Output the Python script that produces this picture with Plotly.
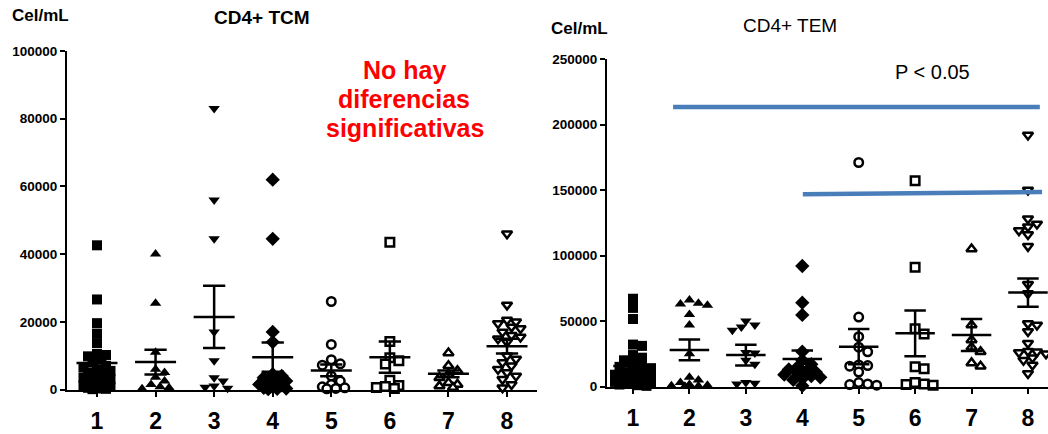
import plotly.graph_objects as go

# ---------------- data ----------------
categories = ["1", "2", "3", "4", "5", "6", "7", "8"]

tcm_g1 = [42600, 26600, 19600, 16500, 13700, 10500, 10200, 9800, 9000, 8000, 7000, 6500, 6000, 5500, 5000,
          4500, 4000, 3500, 3000, 2500, 2000, 1800, 1500, 1200, 1000, 800, 500, 300, 200, 100]
tcm_g2 = [40000, 25500, 11000, 6000, 5000, 3600, 2500, 1500, 800, 500, 200]
tcm_g3 = [83000, 56000, 44500, 17000, 8500, 3500, 2500, 1000, 700, 400]
tcm_g4 = [62000, 44500, 17000, 14000, 4500, 4000, 3500, 3000, 2500, 2000, 1500, 1200, 800, 500, 300, 200, 100]
tcm_g5 = [26000, 13300, 8800, 7600, 7200, 4000, 2500, 1500, 800, 500, 300, 200]
tcm_g6 = [43500, 14200, 9400, 8500, 7500, 2700, 1200, 900, 600, 300]
tcm_g7 = [10800, 7000, 5500, 4500, 3500, 2000, 1500, 1000, 600]
tcm_g8 = [46000, 25000, 20500, 20000, 19500, 18500, 18000, 17000, 16000, 15500, 15000, 14000, 10000, 9000,
          8000, 7000, 6000, 5000, 4000, 3000, 1500, 500]
tcm_mean = [7800, 8100, 21450, 9560, 5620, 9560, 4640, 12800]
tcm_sem = [1800, 3650, 9200, 4300, 1730, 4640, 1000, 2200]

tem_g1 = [67000, 60000, 51500, 32000, 31000, 24000, 22000, 20000, 18000, 16000, 15000, 14000, 12000, 11000,
          10000, 9000, 8000, 7000, 6000, 5500, 5000, 4500, 4000, 3500, 3000, 2500, 2000, 1500, 1000, 500]
tem_g2 = [66000, 63500, 63000, 62000, 55000, 47000, 25000, 7000, 5000, 3000, 1500, 1000, 500, 300, 200]
tem_g3 = [50000, 47000, 45500, 43000, 26000, 25500, 20000, 17000, 3000, 2500, 2000]
tem_g4 = [92000, 64000, 54600, 26600, 20000, 17000, 15000, 13000, 12000, 11000, 10000, 9000, 8000, 7000,
          6000, 5000, 500]
tem_g5 = [171000, 53000, 38000, 30000, 26500, 16500, 16000, 15500, 11000, 3000, 2000, 1500, 1000]
tem_g6 = [157000, 91000, 44000, 40000, 15000, 13500, 3000, 2000, 1500, 1000]
tem_g7 = [105000, 47000, 35500, 30000, 26500, 18000, 15500]
tem_g8 = [192000, 150000, 128000, 124000, 122000, 119000, 116000, 107000, 78000, 71000, 48000, 47000,
          42000, 33000, 27000, 26500, 26000, 25000, 22000, 20000, 16500, 10000]
tem_mean = [15600, 27900, 24000, 21000, 30400, 40600, 39300, 71700]
tem_sem = [3000, 7900, 7900, 6400, 13500, 17500, 12200, 10800]

# significance lines drawn on the TEM panel: (x start, x end, y start, y end) in axis units
tem_sig = [(1.71, 8.21, 213400, 213400), (4.01, 8.25, 146700, 148500)]

tcm_groups = [tcm_g1, tcm_g2, tcm_g3, tcm_g4, tcm_g5, tcm_g6, tcm_g7, tcm_g8]
tem_groups = [tem_g1, tem_g2, tem_g3, tem_g4, tem_g5, tem_g6, tem_g7, tem_g8]

# ---------------- styles ----------------
W, H = 1048, 434
FONT = "Arial, Liberation Sans, sans-serif"
symbols = ["square", "triangle-up", "triangle-down", "diamond", "circle", "square", "triangle-up", "triangle-down"]
filled = [True, True, True, True, False, False, False, False]
sizes = [10, 10, 10, 11, 8.5, 8.5, 9, 9]

# pixel geometry of the two panels
L_X0, L_X1 = 67, 537
L_Y0, L_Y1 = 389.5, 51
R_X0, R_X1 = 607, 1048
R_Y0, R_Y1 = 386.5, 59
L_XR = [0.488, 8.512]
R_XR = [0.539, 8.355]
L_YR = [0, 100000]
R_YR = [0, 250000]


def swarm(vals, px_per_unit, px_per_cat, d, maxoff):
    placed = []
    offs = [0.0] * len(vals)
    order = sorted(range(len(vals)), key=lambda i: -vals[i])
    step = d * 0.5
    cands = [0.0]
    j = 1
    while j * step <= maxoff:
        cands += [j * step, -j * step]
        j += 1
    for i in order:
        y = vals[i] * px_per_unit
        best, bestd = 0.0, -1
        chosen = None
        for c in cands:
            md = min([((c - px) ** 2 + (y - py) ** 2) ** 0.5 for px, py in placed] or [1e9])
            if md >= d * 0.8:
                chosen = c
                break
            if md > bestd:
                bestd, best = md, c
        if chosen is None:
            chosen = best
        placed.append((chosen, y))
        offs[i] = chosen / px_per_cat
    return offs


fig = go.Figure()


def add_panel(groups, means, sems, xa, ya, px_per_unit, px_per_cat, maxoff):
    for k, vals in enumerate(groups):
        offs = swarm(vals, px_per_unit, px_per_cat, 9, maxoff)
        xs = [k + 1 + o for o in offs]
        fig.add_trace(go.Scatter(
            x=xs, y=vals, mode="markers", xaxis=xa, yaxis=ya, showlegend=False, cliponaxis=False,
            marker=dict(symbol=symbols[k], size=sizes[k],
                        color="black" if filled[k] else "white",
                        line=dict(color="black", width=0 if filled[k] else 2.5)),
            hoverinfo="skip"))
    # mean +/- SEM
    lx, ly = [], []
    for k, (m, s) in enumerate(zip(means, sems)):
        c = k + 1
        lx += [c - 0.35, c + 0.35, None, c, c, None, c - 0.19, c + 0.19, None, c - 0.19, c + 0.19, None]
        ly += [m, m, None, m - s, m + s, None, m + s, m + s, None, m - s, m - s, None]
    fig.add_trace(go.Scatter(x=lx, y=ly, mode="lines", xaxis=xa, yaxis=ya, showlegend=False,
                             line=dict(color="black", width=2.5), hoverinfo="skip"))


add_panel(tcm_groups, tcm_mean, tcm_sem, "x", "y",
          (L_Y0 - L_Y1) / (L_YR[1] - L_YR[0]), (L_X1 - L_X0) / (L_XR[1] - L_XR[0]), 17)
add_panel(tem_groups, tem_mean, tem_sem, "x2", "y2",
          (R_Y0 - R_Y1) / (R_YR[1] - R_YR[0]), (R_X1 - R_X0) / (R_XR[1] - R_XR[0]), 19)

# significance lines
for xa0, xa1, y0, y1 in tem_sig:
    fig.add_shape(type="line", xref="x2", yref="y2", x0=xa0, x1=xa1, y0=y0, y1=y1,
                  line=dict(color="#4A7EBB", width=4.5))

axis_common = dict(showline=True, linecolor="black", linewidth=2, ticks="outside", tickcolor="black",
                   tickwidth=2, showgrid=False, zeroline=False, fixedrange=True, automargin=False)

fig.update_layout(
    width=W, height=H, margin=dict(l=0, r=0, t=0, b=0, autoexpand=False),
    paper_bgcolor="white", plot_bgcolor="white",
    font=dict(family=FONT, color="black"),
    xaxis=dict(axis_common, domain=[L_X0 / W, L_X1 / W], range=L_XR, tickvals=list(range(1, 9)),
               ticktext=categories, ticklen=5, ticklabelstandoff=5,
               tickfont=dict(size=23, weight="bold"), anchor="y"),
    yaxis=dict(axis_common, domain=[1 - L_Y0 / H, 1 - L_Y1 / H], range=L_YR,
               tickvals=[0, 20000, 40000, 60000, 80000, 100000],
               tickformat="d", ticklen=5, tickfont=dict(size=13.5, weight="bold"), anchor="x"),
    xaxis2=dict(axis_common, domain=[R_X0 / W, R_X1 / W], range=R_XR, tickvals=list(range(1, 9)),
                ticktext=categories, ticklen=5, ticklabelstandoff=5,
                tickfont=dict(size=23, weight="bold"), anchor="y2"),
    yaxis2=dict(axis_common, domain=[1 - R_Y0 / H, 1 - R_Y1 / H], range=R_YR,
                tickvals=[0, 50000, 100000, 150000, 200000, 250000],
                tickformat="d", ticklen=5, tickfont=dict(size=13.5, weight="bold"), anchor="x2"),
)


def ann(text, px, py, size, bold=True, color="black"):
    fig.add_annotation(text=text, x=px / W, y=1 - py / H, xref="paper", yref="paper",
                       showarrow=False, xanchor="center", yanchor="middle",
                       font=dict(family=FONT, size=size, color=color, weight="bold" if bold else "normal"))


ann("Cel/mL", 40, 15, 17)
ann("CD4+ TCM", 262, 17, 19)
ann("Cel/mL", 579, 29, 17)
ann("CD4+ TEM", 790, 25, 19, bold=False)
ann("P &lt; 0.05", 932, 72, 20, bold=False)
ann("No hay", 404, 70, 25, color="#FF0000")
ann("diferencias", 404, 99, 25, color="#FF0000")
ann("significativas", 405, 128, 25, color="#FF0000")

fig.write_html("out.html", config={"displayModeBar": False},
               post_script="document.body.style.margin='0px';document.body.style.overflow='hidden';")
